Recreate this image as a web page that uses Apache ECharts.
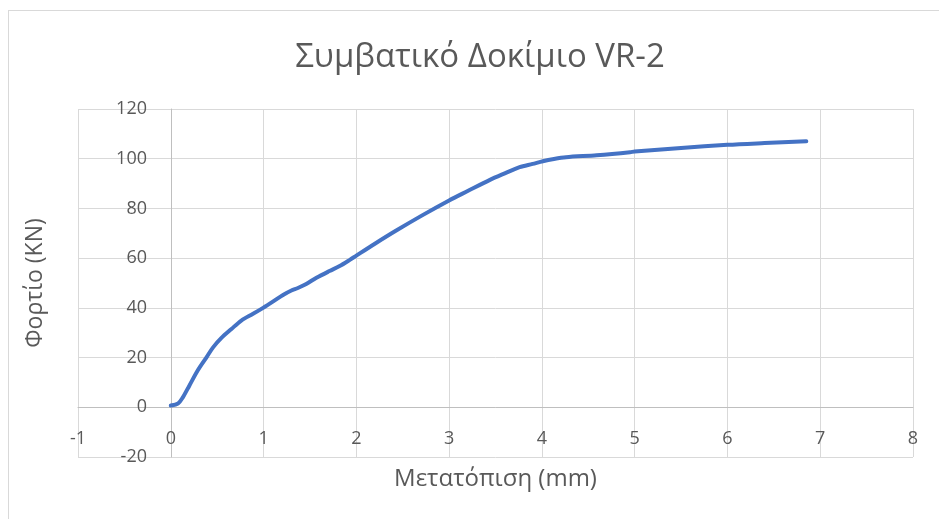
<!DOCTYPE html>
<html>
<head>
<meta charset="utf-8">
<script src="https://cdn.jsdelivr.net/npm/echarts@6/dist/echarts.min.js"></script>
<style>
  html, body { margin: 0; padding: 0; background: #fff; }
  #wrap { position: relative; width: 939px; height: 519px; overflow: hidden; }
  #frame { position: absolute; left: 8px; top: 10px; width: 1000px; height: 600px; border: 1px solid #d9d9d9; box-sizing: border-box; }
  #main { position: absolute; left: 0; top: 0; width: 939px; height: 519px; }
</style>
</head>
<body>
<div id="wrap">
  <div id="frame"></div>
  <div id="main"></div>
</div>
<script>
// μετατόπιση (mm) και φορτίο (KN), διαβασμένα από το διάγραμμα
var dispMm = [0, 0.08, 0.13, 0.2, 0.29, 0.385, 0.456, 0.546, 0.654, 0.76, 0.887, 0.995,
  1.10, 1.21, 1.30, 1.37, 1.46, 1.57, 1.71, 1.82, 1.93, 2.0, 2.2, 2.43, 2.7, 3.0, 3.2,
  3.44, 3.6, 3.76, 3.9, 4.01, 4.13, 4.26, 4.59, 4.95, 5.0, 5.5, 6.0, 6.4, 6.85];
var loadKN = [0.7, 1.6, 4, 8.7, 14.8, 20.1, 24.1, 27.9, 31.5, 34.9, 37.6, 40,
  42.5, 45.2, 47.0, 48.0, 49.6, 52.1, 54.8, 56.8, 59.3, 61.0, 65.8, 71.1, 77.0, 83.2, 87.0,
  91.5, 94.1, 96.6, 97.9, 99.0, 99.9, 100.6, 101.4, 102.6, 102.9, 104.3, 105.6, 106.3, 107.0];

var chartTitle = 'Συμβατικό Δοκίμιο VR-2';
var xName = 'Μετατόπιση (mm)';
var yName = 'Φορτίο (KN)';

var points = dispMm.map(function (x, i) { return [x, loadKN[i]]; });

var font = '"Open Sans", "Noto Sans", sans-serif';
var myChart = echarts.init(document.getElementById('main'));

// οι ετικέτες των αξόνων μένουν δίπλα στις γραμμές του μηδενός (όπως στο Excel)
var option = {
  animation: false,
  title: {
    text: chartTitle,
    left: 475,
    top: 36,
    textAlign: 'center',
    textStyle: { color: '#595959', fontSize: 33, fontWeight: 'normal', fontFamily: font }
  },
  grid: { left: 78, right: 26, top: 109, bottom: 62, outerBoundsMode: 'none', containLabel: false },
  xAxis: {
    type: 'value',
    min: -1,
    max: 8,
    interval: 1,
    name: xName,
    nameLocation: 'middle',
    nameGap: 10,
    nameMoveOverlap: false,
    nameTextStyle: { color: '#595959', fontSize: 24, fontFamily: font },
    axisLine: { onZero: true, lineStyle: { color: '#bfbfbf', width: 1 } },
    axisTick: { show: false },
    axisLabel: { color: '#595959', fontSize: 18, fontFamily: font, margin: -27 },
    splitLine: { show: true, lineStyle: { color: '#d9d9d9', width: 1 } }
  },
  yAxis: {
    type: 'value',
    min: -20,
    max: 120,
    interval: 20,
    name: yName,
    nameLocation: 'middle',
    nameGap: 31,
    nameRotate: 90,
    nameMoveOverlap: false,
    nameTextStyle: { color: '#595959', fontSize: 23, fontFamily: font },
    axisLine: { show: true, onZero: true, lineStyle: { color: '#bfbfbf', width: 1 } },
    axisTick: { show: false },
    axisLabel: { color: '#595959', fontSize: 18, fontFamily: font, margin: -69 },
    splitLine: { show: true, lineStyle: { color: '#d9d9d9', width: 1 } }
  },
  series: [
    {
      type: 'line',
      data: points,
      symbol: 'none',
      smooth: 0.3,
      lineStyle: { color: '#4472C4', width: 4, cap: 'round', join: 'round' }
    }
  ]
};

myChart.setOption(option);
</script>
</body>
</html>
